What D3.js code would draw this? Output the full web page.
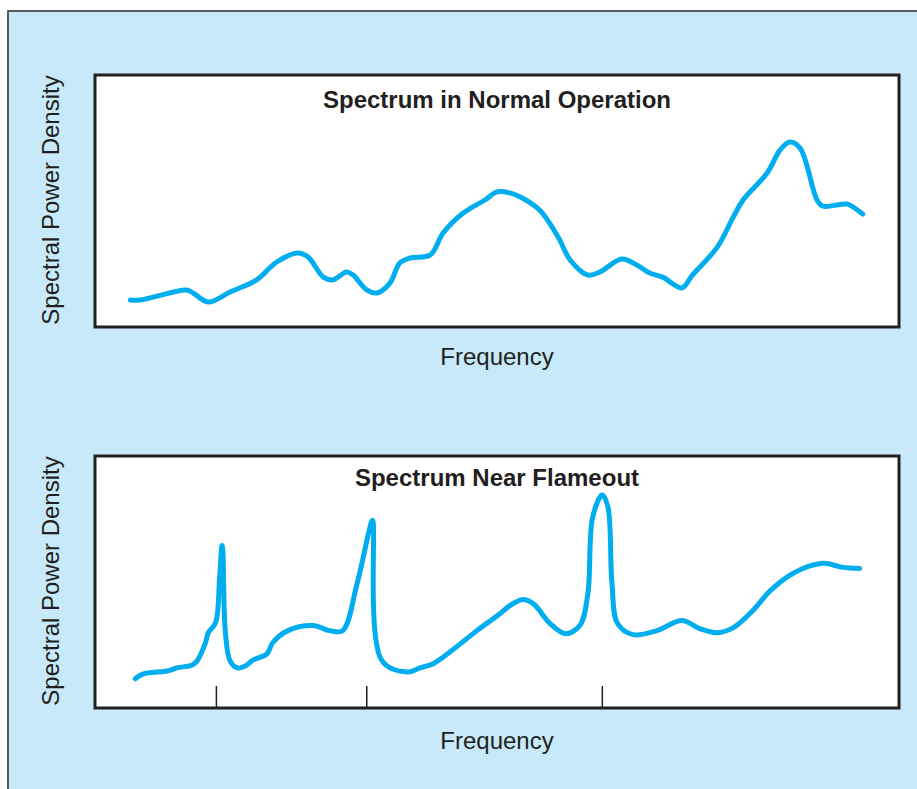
<!DOCTYPE html>
<html>
<head>
<meta charset="utf-8">
<script src="https://cdn.jsdelivr.net/npm/d3@7"></script>
<style>
  body { margin: 0; background: #fff; }
  text { font-family: "Liberation Sans", Arial, sans-serif; fill: #231f20; }
</style>
</head>
<body>
<svg id="chart" width="917" height="789"></svg>
<script>
// normal operation spectrum (freq 0-100, psd 0-100)
var normalFreq = [4.4, 5.6, 11.4, 12.2, 14.1, 16.8, 20.1, 22.6, 25.2, 26.5, 28.4, 29.6, 31.3, 32.1, 33.8, 35.1, 36.7, 37.9, 39.2, 41.7, 43.3, 45.8, 48.5, 50.0, 51.6, 52.9, 55.3, 57.6, 59.1, 61.3, 62.8, 65.5, 67.4, 69.0, 70.6, 73.0, 74.3, 77.4, 79.4, 80.6, 83.6, 85.2, 86.4, 87.7, 89.8, 90.5, 93.5, 94.3, 95.5];
var normalPsd = [10.7, 10.7, 14.7, 13.5, 9.9, 13.9, 18.7, 25.8, 29.4, 27.8, 19.8, 18.7, 21.8, 20.6, 14.7, 13.5, 17.5, 25.4, 27.4, 28.6, 37.3, 45.2, 50.4, 53.6, 53.2, 51.6, 46.4, 35.7, 26.6, 20.6, 21.8, 27.0, 24.6, 21.4, 19.8, 15.5, 20.6, 31.7, 43.7, 50.4, 61.1, 70.2, 73.4, 71.0, 50.4, 48.0, 48.8, 47.6, 44.8];

// near flameout spectrum
var flameFreq = [5.0, 6.0, 9.0, 10.2, 12.1, 12.7, 13.7, 14.1, 15.0, 15.5, 15.8, 15.9, 16.2, 16.8, 17.7, 18.7, 19.7, 21.4, 22.1, 24.0, 27.1, 29.2, 30.8, 32.6, 34.5, 34.6, 35.7, 38.9, 40.4, 42.0, 44.5, 47.5, 50.4, 51.6, 53.1, 54.5, 56.6, 58.5, 60.3, 61.3, 61.9, 63.1, 63.8, 64.3, 65.0, 66.9, 69.9, 73.0, 75.2, 77.4, 79.4, 81.8, 84.0, 86.8, 90.5, 93.0, 95.1];
var flamePsd = [11.6, 13.5, 14.7, 15.9, 17.1, 18.7, 25.5, 29.9, 33.9, 51.8, 64.5, 62.5, 30.7, 18.7, 15.9, 16.7, 19.1, 21.5, 25.9, 30.7, 32.7, 30.7, 30.7, 49.4, 74.5, 73.7, 18.7, 14.3, 15.9, 17.5, 23.1, 30.7, 37.5, 40.6, 43.0, 41.4, 33.5, 29.5, 32.7, 45.4, 75.7, 84.5, 79.7, 49.4, 33.5, 29.1, 30.7, 34.7, 31.5, 29.9, 31.9, 38.6, 46.6, 53.4, 57.4, 55.8, 55.4];
var flameTicks = [15.1, 33.8, 63.1];

var svg = d3.select('#chart');

// blue backdrop with grey frame
svg.append('rect')
  .attr('x', 8).attr('y', 11)
  .attr('width', 930).attr('height', 800)
  .attr('fill', '#c7e9f9')
  .attr('stroke', '#5a5a5a')
  .attr('stroke-width', 2);

var panels = [
  { title: 'Spectrum in Normal Operation', freq: normalFreq, psd: normalPsd, top: 75, ticks: [], titleDy: 33, labelDy: 38 },
  { title: 'Spectrum Near Flameout', freq: flameFreq, psd: flamePsd, top: 456, ticks: flameTicks, titleDy: 30, labelDy: 41 }
];

var left = 95, right = 899, panelH = 252;

panels.forEach(function (p) {
  var x = d3.scaleLinear().domain([0, 100]).range([left, right]);
  var y = d3.scaleLinear().domain([0, 100]).range([p.top + panelH, p.top]);

  svg.append('rect')
    .attr('x', left).attr('y', p.top)
    .attr('width', right - left).attr('height', panelH)
    .attr('fill', '#fff')
    .attr('stroke', '#231f20')
    .attr('stroke-width', 3);

  // ticks on the bottom edge
  svg.selectAll(null)
    .data(p.ticks)
    .enter().append('line')
    .attr('x1', d => x(d)).attr('x2', d => x(d))
    .attr('y1', p.top + panelH).attr('y2', p.top + panelH - 22)
    .attr('stroke', '#231f20')
    .attr('stroke-width', 1.5);

  var pts = p.freq.map((f, i) => [f, p.psd[i]]);
  var line = d3.line()
    .x(d => x(d[0]))
    .y(d => y(d[1]))
    .curve(d3.curveCatmullRom.alpha(0.5));

  svg.append('path')
    .attr('d', line(pts))
    .attr('fill', 'none')
    .attr('stroke', '#00aeef')
    .attr('stroke-width', 5)
    .attr('stroke-linecap', 'round')
    .attr('stroke-linejoin', 'round');

  svg.append('text')
    .attr('x', (left + right) / 2)
    .attr('y', p.top + p.titleDy)
    .attr('text-anchor', 'middle')
    .style('font-size', '24px')
    .style('font-weight', 'bold')
    .text(p.title);

  svg.append('text')
    .attr('x', (left + right) / 2)
    .attr('y', p.top + panelH + p.labelDy)
    .attr('text-anchor', 'middle')
    .style('font-size', '24px')
    .text('Frequency');

  svg.append('text')
    .attr('transform', 'translate(59,' + (p.top + panelH / 2 - 1) + ') rotate(-90)')
    .attr('text-anchor', 'middle')
    .style('font-size', '24px')
    .text('Spectral Power Density');
});
</script>
</body>
</html>
